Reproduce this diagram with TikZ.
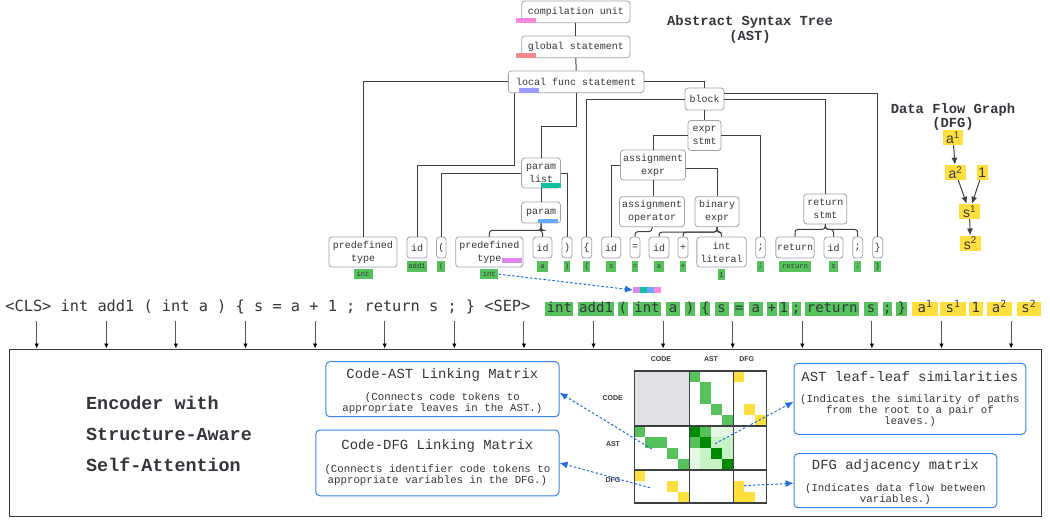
\documentclass[tikz,border=0pt]{standalone}
\usepackage{fontspec}
\setmainfont{Liberation Mono}
\newfontfamily\lmono{Liberation Mono}
\newfontfamily\dmono{DejaVu Sans Mono}
\newfontfamily\lsans{Liberation Sans}
\usetikzlibrary{arrows.meta}
\definecolor{treegray}{HTML}{9CA3AB}
\definecolor{lineclr}{HTML}{3C4043}
\definecolor{tokgreen}{HTML}{56C25C}
\definecolor{tokyellow}{HTML}{FFDF3D}
\definecolor{blueclr}{HTML}{3A86E6}
\definecolor{arrblue}{HTML}{1F6FE0}
\definecolor{txt}{HTML}{33363B}
\definecolor{dgreen}{HTML}{008A00}
\definecolor{lgreen}{HTML}{C6F2C6}
\definecolor{llgreen}{HTML}{E4F8E4}
\definecolor{cgray}{HTML}{DFE1E5}
\definecolor{cpink}{HTML}{FF88DD}
\definecolor{csalmon}{HTML}{F28A8A}
\definecolor{cpurple}{HTML}{9B9BFF}
\definecolor{cteal}{HTML}{12BFA0}
\definecolor{cblue}{HTML}{66AAFF}
\definecolor{cviolet}{HTML}{DD88EE}
\tikzset{
 tb/.style={draw=treegray, line width=0.8pt, rounded corners=3pt, fill=white, inner sep=0pt, align=center, text=txt, font=\lmono\fontsize{10}{13}\selectfont},
 tl/.style={tb, minimum height=21pt},
 tt/.style={tb, minimum height=30pt},
 tline/.style={draw=lineclr, line width=1pt},
 lbl/.style={fill=tokgreen, inner sep=0pt, minimum height=10.5pt, text=txt, font=\lmono\fontsize{7.2}{8}\selectfont, anchor=north},
 gtok/.style={fill=tokgreen, inner sep=0pt, text height=10pt, text depth=3pt, minimum height=14.6pt, text=txt, font=\dmono\fontsize{14}{16}\selectfont},
 ytok/.style={gtok, fill=tokyellow},
 dfgn/.style={fill=tokyellow, inner sep=0pt, minimum height=15pt, text=txt, font=\lsans\fontsize{14}{16}\selectfont},
 dfga/.style={draw=lineclr, line width=1pt, -{Latex[length=7pt,width=6pt]}},
 inarr/.style={draw=gray!70!black, line width=0.9pt, -{Latex[length=5pt,width=4.5pt,color=black]}},
 bluebox/.style={draw=blueclr, line width=1pt, rounded corners=4pt, inner sep=0pt},
 btitle/.style={text=txt, font=\lmono\fontsize{13.9}{16}\selectfont, inner sep=0pt},
 bsub/.style={text=txt, font=\lmono\fontsize{10.75}{11.2}\selectfont, align=center, inner sep=0pt},
 barrow/.style={draw=arrblue, line width=1pt, dash pattern=on 2.5pt off 2pt, -{Latex[length=8pt,width=7pt]}},
 mlab/.style={text=txt, font=\lsans\bfseries\fontsize{7}{8}\selectfont, inner sep=0pt},
 ttl/.style={text=txt, font=\lmono\bfseries\fontsize{13.8}{15}\selectfont, inner sep=0pt},
 enctxt/.style={text=txt, font=\lmono\bfseries\fontsize{18.4}{20}\selectfont, inner sep=0pt, anchor=west},
}
\begin{document}
\begin{tikzpicture}[x=1pt,y=-1pt]
\useasboundingbox (0,0) rectangle (1050,520);
\fill[white] (0,0) rectangle (1050,520);

% titles
\node[ttl] (astt1) at (750,22) {Abstract Syntax Tree};
\node[ttl] (astt2) at (750,37) {(AST)};
\node[ttl] (dfgt1) at (953,110) {Data Flow Graph};
\node[ttl] (dfgt2) at (953,124) {(DFG)};

% tree inner nodes
\node[tb, minimum width=108.3pt, minimum height=21.7pt] (cu) at (575.8,11.8) {compilation unit};
\node[tb, minimum width=108.3pt, minimum height=21.7pt] (gs) at (575.8,46.8) {global statement};
\node[tb, minimum width=135.7pt, minimum height=21.7pt] (lf) at (576.2,81.8) {local func statement};
\node[tb, minimum width=39pt, minimum height=22pt] (blk) at (704.5,99) {block};
\node[tt, minimum width=33pt] (es) at (704.5,135.5) {expr\\stmt};
\node[tt, minimum width=65pt] (ae) at (653,165) {assignment\\expr};
\node[tt, minimum width=65pt] (ao) at (652,211.7) {assignment\\operator};
\node[tt, minimum width=44pt] (be) at (717,211.7) {binary\\expr};
\node[tt, minimum width=43pt] (rs) at (825.3,209) {return\\stmt};
\node[tt, minimum width=39pt] (pl) at (541,173) {param\\list};
\node[tl, minimum width=39pt] (pm) at (541,212.5) {param};

% leaves
\node[tt, minimum width=68pt] (pt1) at (363,252) {predefined\\type};
\node[tl, minimum width=20pt] (id1) at (417,247.5) {id};
\node[tl, minimum width=9.5pt] (lp) at (441.3,247.5) {(};
\node[tt, minimum width=67.3pt] (pt2) at (489.3,252) {predefined\\type};
\node[tl, minimum width=19pt] (id2) at (542.5,247.5) {id};
\node[tl, minimum width=10pt] (rp) at (567,247.5) {)};
\node[tl, minimum width=10pt] (lb) at (586.7,247.5) {\{};
\node[tl, minimum width=19pt] (id3) at (611.2,247.5) {id};
\node[tl, minimum width=10pt] (eq) at (635,247.5) {=};
\node[tl, minimum width=20pt] (id4) at (659,247.5) {id};
\node[tl, minimum width=10pt] (pls) at (683,247.5) {+};
\node[tt, minimum width=49.3pt] (il) at (721.5,252) {int\\literal};
\node[tl, minimum width=9.5pt] (sc1) at (760.5,247.5) {;};
\node[tl, minimum width=38.3pt] (ret) at (795,247.5) {return};
\node[tl, minimum width=19pt] (id5) at (833.5,247.5) {id};
\node[tl, minimum width=10pt] (sc2) at (857.7,247.5) {;};
\node[tl, minimum width=10pt] (rb) at (877.7,247.5) {\}};

% tree connectors
\draw[tline] (cu.south) -- (gs.north);
\draw[tline] (gs.south) -- (lf.north);
\draw[tline] (lf.west) -| (pt1.north);
\draw[tline] ([xshift=-62.2pt]lf.south) -- ++(0,72) -| (id1.north);
\draw[tline] (lf.south) -- ++(0,33) -| (pl.north);
\draw[tline] (lf.east) -| (blk.north);
\draw[tline] (blk.west) -| (lb.north);
\draw[tline] (blk.east) -| (rs.north);
\draw[tline] ([yshift=6pt]blk.east) -| (rb.north);
\draw[tline] (blk.south) -- (es.north);
\draw[tline] (es.west) -| (ae.north);
\draw[tline] (es.east) -| (sc1.north);
\draw[tline] (ae.west) -| (id3.north);
\draw[tline] ([yshift=-3pt]ae.east) -| (be.north);
\draw[tline] (ae.south) -- (ae.south |- ao.north);
\draw[tline, rounded corners=3pt] (ao.south) -- ++(0,4.5) -| (eq.north);
\foreach \t in {id4,pls,il} \draw[tline, rounded corners=3pt] (be.south) -- ++(0,5) -| (\t.north);
\foreach \t in {ret,id5,sc2} \draw[tline, rounded corners=3pt] (rs.south) -- ++(0,5) -| (\t.north);
\draw[tline] (pl.west) -| (lp.north);
\draw[tline] (pl.east) -| (rp.north);
\draw[tline] (pl.south) -- (pm.north);
\foreach \t in {pt2,id2} \draw[tline, rounded corners=3pt] (pm.south) -- ++(0,7) -| (\t.north);

% leaf labels
\node[lbl, minimum width=19pt] (pt1l) at ([yshift=-1.3pt]pt1.south) {int};
\node[lbl, minimum width=19.4pt] (id1l) at ([yshift=-2.5pt]id1.south) {add1};
\node[lbl, minimum width=8.3pt] (lpl) at ([yshift=-2.5pt]lp.south) {(};
\node[lbl, minimum width=18.3pt] (pt2l) at ([yshift=-1.3pt]pt2.south) {int};
\node[lbl, minimum width=10.6pt] (id2l) at ([yshift=-2.5pt]id2.south) {a};
\node[lbl, minimum width=6pt] (rpl) at ([yshift=-2.5pt]rp.south) {)};
\node[lbl, minimum width=6.7pt] (lbl1) at ([yshift=-2.5pt]lb.south) {\{};
\node[lbl, minimum width=10pt] (id3l) at ([yshift=-2.5pt]id3.south) {s};
\node[lbl, minimum width=6.7pt] (eql) at ([yshift=-2.5pt]eq.south) {=};
\node[lbl, minimum width=10pt] (id4l) at ([yshift=-2.5pt]id4.south) {a};
\node[lbl, minimum width=6.7pt] (plsl) at ([yshift=-2.5pt]pls.south) {+};
\node[lbl, minimum width=7.4pt] (ill) at ([yshift=-1.8pt]il.south) {1};
\node[lbl, minimum width=7.6pt] (sc1l) at ([yshift=-2.5pt]sc1.south) {;};
\node[lbl, minimum width=32.3pt] (retl) at ([yshift=-2.5pt]ret.south) {return};
\node[lbl, minimum width=9pt] (id5l) at ([yshift=-2.5pt]id5.south) {s};
\node[lbl, minimum width=7pt] (sc2l) at ([yshift=-2.5pt]sc2.south) {;};
\node[lbl, minimum width=6.7pt] (rbl) at ([yshift=-2.5pt]rb.south) {\}};

% legend bars
\fill[cpink] (516,17.7) rectangle (536,22.7);
\fill[csalmon] (516,52.7) rectangle (536,57.7);
\fill[cpurple] (519,87.7) rectangle (539,92.7);
\fill[cteal] (541,182.7) rectangle (560.7,187.7);
\fill[cblue] (538,219) rectangle (557.7,223.3);
\fill[cviolet] (501.7,257.7) rectangle (522.3,262.7);

% path bar
\fill[cviolet] (633,287) rectangle (640,293);
\fill[cteal] (640,287) rectangle (647,293);
\fill[cblue] (647,287) rectangle (654,293);
\fill[cpink] (654,287) rectangle (661,293);
\coordinate (mbar) at (633,290);
\draw[barrow] (pt2l.east) -- (mbar);

% DFG
\node[dfgn, minimum width=20pt] (a1) at (953,137.5) {a\textsuperscript{1}};
\node[dfgn, minimum width=21pt] (a2) at (955.5,172.5) {a\textsuperscript{2}};
\node[dfgn, minimum width=11pt] (one) at (982.2,172.5) {1};
\node[dfgn, minimum width=21pt] (s1) at (969.5,211.5) {s\textsuperscript{1}};
\node[dfgn, minimum width=21pt] (s2) at (970.3,243.2) {s\textsuperscript{2}};
\draw[dfga] (a1) -- (a2);
\draw[dfga] (a2) -- (s1);
\draw[dfga] (one) -- (s1);
\draw[dfga] (s1) -- (s2);

% input sequence
\node[anchor=west, inner sep=0pt, text=txt, font=\dmono\fontsize{15.3}{18}\selectfont] (seq) at (5.2,307) {<CLS> int add1 ( int a ) \{ s = a + 1 ; return s ; \} <SEP>};
\foreach \a/\b/\t [count=\i] in {545.4/573.4/int, 578.2/614/add1, 618.1/627.5/(, 632.6/661.4/int, 666.4/679.6/a, 685/695.2/), 700.3/710.4/\{, 714.5/728.7/s, 734.1/744.2/=, 749/762.5/a, 766.9/777/+, 778.7/788.9/1, 791.6/800.7/;, 805.1/859.2/return, 864.3/877.8/s, 882.9/892/;, 896.4/907.2/\}}
  \node[gtok, minimum width={(\b-\a)*1pt}] (g\i) at ({(\a+\b)/2},309) {\t};
\foreach \a/\b/\t [count=\i] in {912.3/937.7/a\textsuperscript{1}, 940.4/965.7/s\textsuperscript{1}, 968.8/982.7/1, 986.7/1012.1/a\textsuperscript{2}, 1016.5/1041/s\textsuperscript{2}}
  \node[ytok, minimum width={(\b-\a)*1pt}] (y\i) at ({(\a+\b)/2},309) {\t};

% encoder box
\node[draw=txt, line width=1pt, minimum width=1032pt, minimum height=167pt, inner sep=0pt] (encbox) at (525,432.5) {};
\foreach \k in {0,...,14} {
  \coordinate (in\k) at ({36.7+69.6*\k},321);
  \draw[inarr] (in\k) -- (in\k |- encbox.north);
}
\node[enctxt] (e1) at (86,403) {Encoder with};
\node[enctxt] (e2) at (86,434) {Structure-Aware};
\node[enctxt] (e3) at (86,465) {Self-Attention};

% matrix
\begin{scope}[shift={(634.3,371)}, x=11pt, y=-11pt]
  \fill[cgray] (0,0) rectangle (5,5);
  \foreach \c/\r in {5/0,6/1,6/2,7/3,8/4,0/5,1/6,2/6,3/7,4/8,6/5,5/6}
    \fill[tokgreen] (\c,\r) rectangle ++(1,1);
  \foreach \c/\r in {5/5,6/6,7/7,8/8}
    \fill[dgreen] (\c,\r) rectangle ++(1,1);
  \foreach \c/\r in {7/5,8/5,5/7,5/8}
    \fill[llgreen] (\c,\r) rectangle ++(1,1);
  \foreach \c/\r in {7/6,8/6,6/7,6/8,8/7,7/8}
    \fill[lgreen] (\c,\r) rectangle ++(1,1);
  \foreach \c/\r in {9/0,10/3,11/4,0/9,3/10,4/11,9/10,9/11,10/11}
    \fill[tokyellow] (\c,\r) rectangle ++(1,1);
  \foreach \x/\y/\u/\v in {0/0/5/5, 5/0/9/5, 9/0/12/5, 0/5/5/9, 5/5/9/9, 9/5/12/9, 0/9/5/12, 5/9/9/12, 9/9/12/12}
    \draw[draw=lineclr, line width=1.2pt] (\x,\y) rectangle (\u,\v);
\end{scope}
\node[mlab] (mc1) at (661,359) {CODE};
\node[mlab] (mc2) at (711,359) {AST};
\node[mlab] (mc3) at (746.7,359) {DFG};
\node[mlab] (mr1) at (612.7,397.7) {CODE};
\node[mlab] (mr2) at (613,444) {AST};
\node[mlab] (mr3) at (613,480) {DFG};

% blue boxes
\node[bluebox, minimum width=233.3pt, minimum height=55pt] (cam) at (442.4,389.2) {};
\node[btitle] (camt) at (442.4,375) {Code-AST Linking Matrix};
\node[bsub] (cams) at (442.4,403) {(Connects code tokens to\\appropriate leaves in the AST.)};
\node[bluebox, minimum width=243.3pt, minimum height=65.7pt] (cdm) at (437.4,462.9) {};
\node[btitle] (cdmt) at (437.4,446) {Code-DFG Linking Matrix};
\node[bsub] (cdms) at (437.4,475) {(Connects identifier code tokens to\\appropriate variables in the DFG.)};
\node[bluebox, minimum width=231.7pt, minimum height=71pt] (all) at (909.9,398.8) {};
\node[btitle] (allt) at (909.9,376.7) {AST leaf-leaf similarities};
\node[bsub] (alls) at (909.9,410.5) {(Indicates the similarity of paths\\from the root to a pair of\\leaves.)};
\node[bluebox, minimum width=202.7pt, minimum height=54pt] (dam) at (895.4,480.7) {};
\node[btitle] (damt) at (895.4,465.7) {DFG adjacency matrix};
\node[bsub] (dams) at (895.4,494.3) {(Indicates data flow between\\variables.)};

\coordinate (m1) at (651.7,449);
\coordinate (m2) at (650,487.7);
\coordinate (m3) at (715,443.7);
\coordinate (m4) at (744,485.7);
\draw[barrow] (m1) -- ([yshift=-3.5pt]cam.east);
\draw[barrow] (m2) -- (cdm.east);
\draw[barrow] (m3) -- ([yshift=-3pt]all.west);
\draw[barrow] (m4) -- ([yshift=-2.5pt]dam.west);
\end{tikzpicture}
\end{document}
